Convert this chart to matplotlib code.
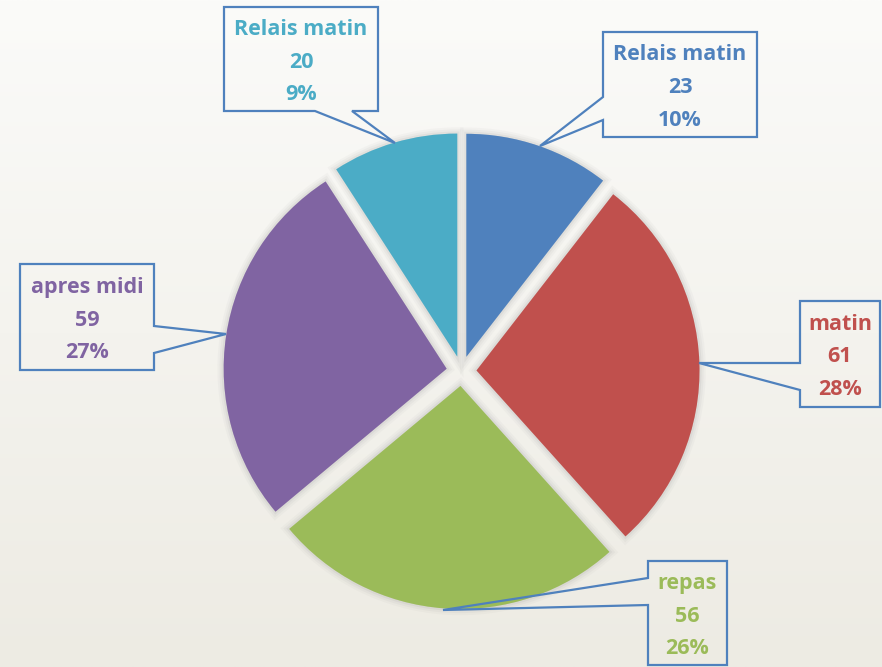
import numpy as np
import matplotlib
matplotlib.use("Agg")
import matplotlib.pyplot as plt
import matplotlib.patheffects as pe
from matplotlib.patches import Polygon

# ---- data ----
categories = ["Relais matin", "matin", "repas", "apres midi", "Relais matin"]
values = [23, 61, 56, 59, 20]
percent_labels = ["10%", "28%", "26%", "27%", "9%"]
colors = ["#4F81BD", "#C0504D", "#9BBB59", "#8064A2", "#4BACC6"]

W, H = 882, 667
fig = plt.figure(figsize=(W / 100, H / 100), dpi=100)
ax = fig.add_axes([0, 0, 1, 1])

def Y(y):
    return H - y

# background gradient
top = np.array([251, 251, 249]) / 255
bot = np.array([237, 235, 227]) / 255
t = np.linspace(0, 1, 256)[:, None]
grad = top[None, :] * (1 - t) + bot[None, :] * t
grad = np.repeat(grad[:, None, :], 2, axis=1)
ax.imshow(grad, extent=[0, W, 0, H], aspect="auto", zorder=0, origin="upper")

cx, cy, r = 461.5, Y(371), 223
wedges, _ = ax.pie(values, colors=colors, startangle=90, counterclock=False,
                   center=(cx, cy), radius=r, explode=[15] * len(values),
                   frame=True, wedgeprops=dict(linewidth=0, zorder=2))
for w in wedges:
    w.set_path_effects([
        pe.Stroke(linewidth=9, foreground="#9a9a9a", alpha=0.06),
        pe.Stroke(linewidth=6, foreground="#9a9a9a", alpha=0.08),
        pe.Stroke(linewidth=3, foreground="#8a8a8a", alpha=0.10),
        pe.Normal(),
    ])

# callout boxes (pixel layout): (x0, y0, x1, y1, side, g1, g2, tip)
boxes = [
    (603, 32, 757, 137, "left", 97, 120, (540, 146)),
    (800, 301, 880, 407, "left", 363, 390, (699, 363)),
    (648, 561, 727, 665, "left", 578, 605, (443, 610)),
    (20, 264, 154, 370, "right", 326, 353, (226, 334)),
    (224, 7, 378, 111, "bottom", 315, 352, (395, 143)),
]

for i, (x0, y0, x1, y1, side, g1, g2, tip) in enumerate(boxes):
    if side == "left":
        pts = [(x0, y0), (x1, y0), (x1, y1), (x0, y1), (x0, g2), tip, (x0, g1)]
    elif side == "right":
        pts = [(x0, y0), (x1, y0), (x1, g1), tip, (x1, g2), (x1, y1), (x0, y1)]
    else:  # bottom
        pts = [(x0, y0), (x1, y0), (x1, y1), (g2, y1), tip, (g1, y1), (x0, y1)]
    poly = Polygon([(px, Y(py)) for px, py in pts], closed=True, fill=False,
                   edgecolor="#4F81BD", linewidth=1.6, zorder=4,
                   joinstyle="miter")
    ax.add_patch(poly)
    label = f"{categories[i]}\n{values[i]}\n{percent_labels[i]}"
    ax.text((x0 + x1) / 2, Y((y0 + y1) / 2 + 3), label, ha="center", va="center",
            color=colors[i], fontsize=15.5, fontweight="bold", family="Open Sans",
            linespacing=1.74, zorder=5)

ax.set_xlim(0, W)
ax.set_ylim(0, H)
ax.set_aspect("auto")
ax.axis("off")
fig.savefig("out.png", dpi=100)
